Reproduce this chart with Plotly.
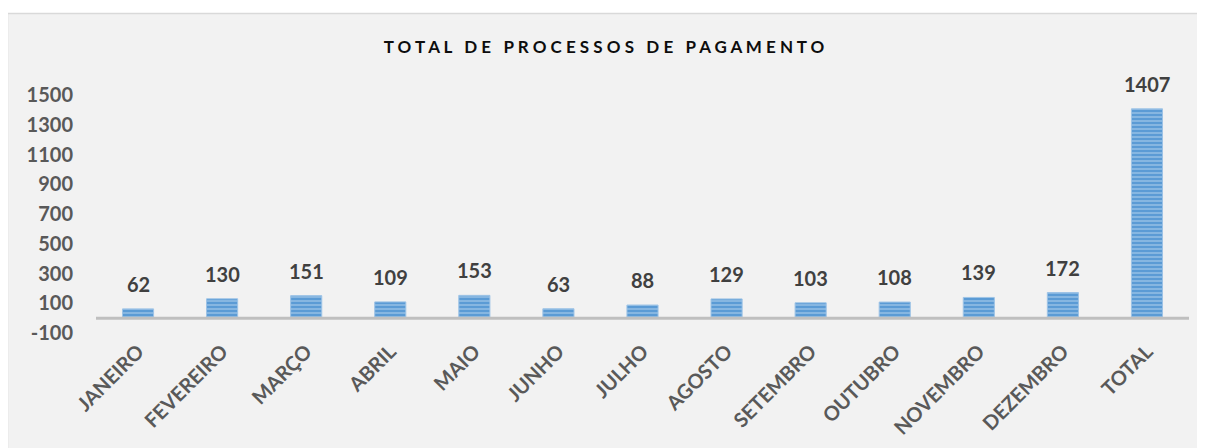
import plotly.graph_objects as go

categories = ["JANEIRO", "FEVEREIRO", "MARÇO", "ABRIL", "MAIO", "JUNHO", "JULHO",
              "AGOSTO", "SETEMBRO", "OUTUBRO", "NOVEMBRO", "DEZEMBRO", "TOTAL"]
values = [62, 130, 151, 109, 153, 63, 88, 129, 103, 108, 139, 172, 1407]
y_ticks = [-100, 100, 300, 500, 700, 900, 1100, 1300, 1500]
title_text = "TOTAL DE PROCESSOS DE PAGAMENTO"

# page has an 8px body margin; figure size compensates
W, H = 1197, 440
L, R, T, B = 88, 16, 87, 115
pw, ph = W - L - R, H - T - B

def px_to_paper_x(px):
    return (px - L) / pw

def px_to_paper_y(py):
    return 1 - (py - T) / ph

spaced_title = "   ".join(" ".join(list(w)) for w in title_text.split(" "))

fig = go.Figure()
fig.add_trace(go.Bar(
    x=categories, y=values,
    marker=dict(
        color="#5b9bd5",
        line=dict(color="#9dc3e6", width=1),
        pattern=dict(shape="-", fgcolor="#d6e7f6", bgcolor="#5b9bd5",
                     size=4, solidity=0.35, fillmode="overlay"),
    ),
    hoverinfo="skip",
))

for c, v in zip(categories, values):
    fig.add_annotation(x=c, y=v, text=f"<b>{v}</b>", showarrow=False,
                       yanchor="bottom", yshift=11,
                       font=dict(family="Lato", size=20, color="#404040"))

# background frame
fig.add_shape(type="rect", xref="paper", yref="paper", layer="below",
              x0=px_to_paper_x(-0.5), x1=px_to_paper_x(W + 20),
              y0=px_to_paper_y(H + 20), y1=px_to_paper_y(5.5),
              fillcolor="#f2f2f2", line=dict(color="#d9d9d9", width=1.5))

# zero axis line
fig.add_shape(type="line", xref="paper", yref="y", x0=0, x1=1, y0=0, y1=0,
              line=dict(color="#bfbfbf", width=3))

fig.update_layout(
    width=W, height=H,
    margin=dict(l=L, r=R, t=T, b=B, autoexpand=False),
    paper_bgcolor="white",
    plot_bgcolor="rgba(0,0,0,0)",
    bargap=0.63,
    showlegend=False,
    title=dict(text=f"<b>{spaced_title}</b>", x=px_to_paper_x(596), xref="paper",
               xanchor="center", y=1 - 39 / H, yanchor="middle",
               font=dict(family="Lato", size=17, color="#0d0d0d")),
    font=dict(family="Lato"),
)
fig.update_xaxes(
    tickangle=-45, showgrid=False, showline=False, zeroline=False,
    tickfont=dict(family="Lato", size=20, color="#595959", weight="bold"),
    ticks="", ticklabelstandoff=2, automargin=False,
)
fig.update_yaxes(
    range=[-100, 1500], tickvals=y_ticks, ticktext=[str(t) for t in y_ticks],
    showgrid=False, showline=False, zeroline=False,
    tickfont=dict(family="Lato", size=20, color="#595959", weight="bold"),
    ticks="", ticklabelstandoff=22, automargin=False,
)

fig.write_html("out.html")
